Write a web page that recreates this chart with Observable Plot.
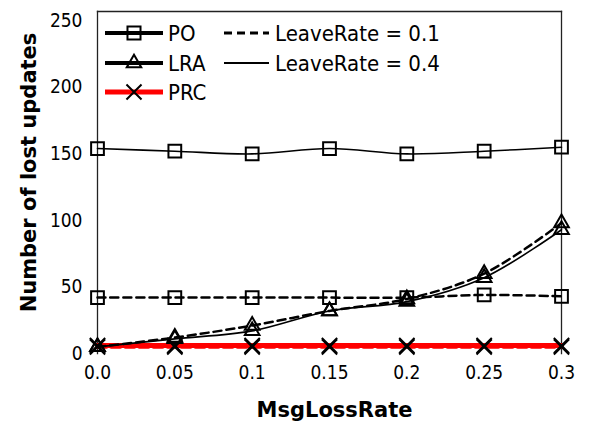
<!DOCTYPE html>
<html>
<head>
<meta charset="utf-8">
<script src="https://cdn.jsdelivr.net/npm/d3@7"></script>
<script src="https://cdn.jsdelivr.net/npm/@observablehq/plot@0.6"></script>
<style>
  html, body { margin: 0; padding: 0; background: #fff; }
  #chart { width: 601px; height: 428px; }
</style>
</head>
<body>
<div id="chart"></div>
<script>
// Data
const msgLossRate = [0, 0.05, 0.1, 0.15, 0.2, 0.25, 0.3];
const xTickLabels = ["0.0", "0.05", "0.1", "0.15", "0.2", "0.25", "0.3"];
const yTicks = [0, 50, 100, 150, 200, 250];
const po_lr04  = [154, 152, 150, 154, 150, 152, 155];
const po_lr01  = [42, 42, 42, 42, 42, 44, 43];
const lra_lr04 = [5, 11, 17, 32, 39, 57, 93];
const lra_lr01 = [5, 12, 21, 32, 41, 60, 98];
const prc_lr04 = [6, 6, 6, 6, 6, 6, 6];
const prc_lr01 = [5, 5, 5, 5, 5, 5, 5];

const toRows = (vals) => msgLossRate.map((x, i) => ({x, y: vals[i]}));

const tickFont = "'DejaVu Sans Condensed', 'DejaVu Sans', sans-serif";
const boldFont = "'DejaVu Sans', sans-serif";

const lineOpts = (stroke, width, dash) => ({
  x: "x", y: "y", stroke, strokeWidth: width,
  strokeDasharray: dash, curve: "catmull-rom"
});
const dotOpts = (symbol, r) => ({
  x: "x", y: "y", symbol, r, stroke: "#000", strokeWidth: 2, fill: "none"
});

const plot = Plot.plot({
  width: 601,
  height: 428,
  marginLeft: 97,
  marginRight: 40,
  marginTop: 11,
  marginBottom: 75,
  style: {fontFamily: tickFont, background: "#fff", color: "#000"},
  x: {domain: [0, 0.3]},
  y: {domain: [0, 257]},
  marks: [
    Plot.frame({anchor: "left", stroke: "#222", strokeWidth: 1.3}),
    Plot.frame({anchor: "top", stroke: "#222", strokeWidth: 1.3}),
    Plot.frame({anchor: "right", stroke: "#222", strokeWidth: 1.3}),
    Plot.axisX(msgLossRate, {
      tickSize: 0, tickPadding: 12, fontSize: 19, fontFamily: tickFont,
      tickFormat: (d) => xTickLabels[msgLossRate.indexOf(d)], label: null
    }),
    Plot.axisY(yTicks, {
      tickSize: 0, tickPadding: 15, fontSize: 19, fontFamily: tickFont, label: null
    }),
    // PRC
    Plot.line(toRows(prc_lr01), lineOpts("#ff0000", 4, "9,5")),
    Plot.line(toRows(prc_lr04), lineOpts("#ff0000", 5, null)),
    // PO
    Plot.line(toRows(po_lr01), lineOpts("#000", 2.5, "8,5")),
    Plot.line(toRows(po_lr04), lineOpts("#000", 1.6, null)),
    // LRA
    Plot.line(toRows(lra_lr01), lineOpts("#000", 2.5, "8,5")),
    Plot.line(toRows(lra_lr04), lineOpts("#000", 1.6, null)),
    // markers
    Plot.dot(toRows(po_lr01), dotOpts("square", 7.2)),
    Plot.dot(toRows(po_lr04), dotOpts("square", 7.2)),
    Plot.dot(toRows(lra_lr01), dotOpts("triangle2", 7)),
    Plot.dot(toRows(lra_lr04), dotOpts("triangle2", 7)),
    Plot.dot(toRows(prc_lr01), dotOpts("times", 7)),
    Plot.dot(toRows(prc_lr04), dotOpts("times", 7)),
    // axis titles
    Plot.text(["MsgLossRate"], {
      frameAnchor: "bottom", dy: 57, dx: 5, fontSize: 21, fontWeight: "bold",
      fontFamily: boldFont, fill: "#000", textAnchor: "middle", lineAnchor: "middle"
    }),
    Plot.text(["Number of lost updates"], {
      frameAnchor: "left", rotate: -90, dx: -68, dy: -10, fontSize: 21,
      fontWeight: "bold", fontFamily: boldFont, fill: "#000",
      textAnchor: "middle", lineAnchor: "middle"
    })
  ]
});

document.getElementById("chart").appendChild(plot);

// Legend (drawn inside the plot area, top-left)
const svg = d3.select(plot);
const legend = svg.append("g")
  .attr("font-family", tickFont)
  .attr("font-size", 22)
  .attr("text-anchor", "start")
  .attr("fill", "#000");
const legendItems1 = [
  {label: "PO", stroke: "#000", width: 4, symbol: d3.symbolSquare, size: 170},
  {label: "LRA", stroke: "#000", width: 4, symbol: d3.symbolTriangle2, size: 150},
  {label: "PRC", stroke: "#ff0000", width: 5, symbol: d3.symbolTimes, size: 150}
];
const legendItems2 = [
  {label: "LeaveRate = 0.1", dash: "8,5", width: 3},
  {label: "LeaveRate = 0.4", dash: null, width: 2}
];
const rowY = [33, 63, 92];
legendItems1.forEach((d, i) => {
  const g = legend.append("g").attr("transform", `translate(0,${rowY[i]})`);
  g.append("line").attr("x1", 105).attr("x2", 163).attr("stroke", d.stroke).attr("stroke-width", d.width);
  g.append("path").attr("d", d3.symbol(d.symbol, d.size)()).attr("transform", "translate(134,0)")
    .attr("fill", "none").attr("stroke", "#000").attr("stroke-width", 2);
  g.append("text").attr("x", 168).attr("dy", "0.35em").text(d.label);
});
legendItems2.forEach((d, i) => {
  const g = legend.append("g").attr("transform", `translate(0,${rowY[i]})`);
  g.append("line").attr("x1", 224).attr("x2", 269).attr("stroke", "#000")
    .attr("stroke-width", d.width).attr("stroke-dasharray", d.dash);
  g.append("text").attr("x", 275).attr("dy", "0.35em").text(d.label);
});
</script>
</body>
</html>
